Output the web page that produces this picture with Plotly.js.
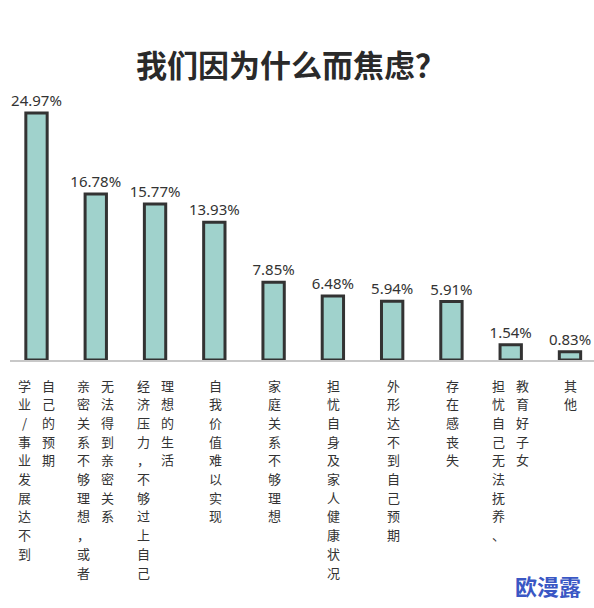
<!DOCTYPE html>
<html>
<head>
<meta charset="utf-8">
<script src="https://cdn.plot.ly/plotly-3.0.1.min.js"></script>
<style>html,body{margin:0;padding:0;background:#fff;}#chart{width:594px;height:608px;}</style>
</head>
<body>
<div id="chart"></div>
<script>
// ---- data ----
const categories = [
  "学业/事业发展达不到自己的预期",
  "亲密关系不够理想，或者无法得到亲密关系",
  "经济压力，不够过上自己理想的生活",
  "自我价值难以实现",
  "家庭关系不够理想",
  "担忧自身及家人健康状况",
  "外形达不到自己预期",
  "存在感丧失",
  "担忧自己无法抚养、教育好子女",
  "其他"
];
// vertical label columns (left column first)
const labelColumns = [
  ["学业/事业发展达不到", "自己的预期"],
  ["亲密关系不够理想，或者", "无法得到亲密关系"],
  ["经济压力，不够过上自己", "理想的生活"],
  ["自我价值难以实现"],
  ["家庭关系不够理想"],
  ["担忧自身及家人健康状况"],
  ["外形达不到自己预期"],
  ["存在感丧失"],
  ["担忧自己无法抚养、", "教育好子女"],
  ["其他"]
];
const values = [24.97, 16.78, 15.77, 13.93, 7.85, 6.48, 5.94, 5.91, 1.54, 0.83];
const valueLabels = values.map(v => v.toFixed(2) + "%");
const chartTitle = "我们因为什么而焦虑？";
const watermark = "欧漫露";

// ---- chart ----
const cjk = '"Noto Sans CJK SC", "Noto Sans", sans-serif';
const charPitch = 18.7;
const annotations = [];
labelColumns.forEach((cols, i) => {
  const shifts = cols.length === 2 ? [-12, 12] : [1];
  cols.forEach((col, j) => {
    Array.from(col).forEach((ch, k) => {
      annotations.push({
        xref: 'x', yref: 'paper',
        x: categories[i], y: 0,
        xanchor: 'center', yanchor: 'middle',
        xshift: shifts[j], yshift: -(25 + k * charPitch),
        text: ch,
        showarrow: false,
        font: {family: cjk, size: 13, color: '#333'}
      });
    });
  });
});
annotations.push({
  xref: 'paper', yref: 'paper',
  x: (548 - 10) / 584, y: (360 - 585) / 277,
  xanchor: 'center', yanchor: 'middle',
  text: '<b>' + watermark + '</b>',
  showarrow: false,
  font: {family: cjk, size: 22, color: '#3a57c4'}
});

const trace = {
  type: 'bar',
  x: categories,
  y: values,
  width: 0.36,
  text: valueLabels,
  textposition: 'outside',
  constraintext: 'none',
  cliponaxis: false,
  textfont: {family: '"Noto Sans", sans-serif', size: 15, color: '#333'},
  marker: {color: '#a0d2cc', line: {color: '#333', width: 3}},
  hoverinfo: 'skip'
};

const layout = {
  width: 594, height: 608,
  margin: {l: 10, r: 0, t: 83, b: 248, pad: 0},
  paper_bgcolor: '#fff', plot_bgcolor: '#fff',
  showlegend: false,
  title: {
    text: chartTitle,
    x: 291 / 594, xanchor: 'center',
    y: 1 - 66 / 608, yanchor: 'middle',
    font: {family: cjk, size: 31, color: '#2a2a2a', weight: 'bold'}
  },
  xaxis: {
    type: 'category',
    range: [-0.447, 9.405],
    showline: true, linecolor: '#c8c8c8', linewidth: 2,
    showticklabels: false, ticks: '', showgrid: false, zeroline: false,
    fixedrange: true
  },
  yaxis: {
    range: [0, 28],
    visible: false, showgrid: false, zeroline: false,
    fixedrange: true
  },
  annotations: annotations
};

Plotly.newPlot('chart', [trace], layout, {displayModeBar: false, staticPlot: true});
</script>
</body>
</html>
